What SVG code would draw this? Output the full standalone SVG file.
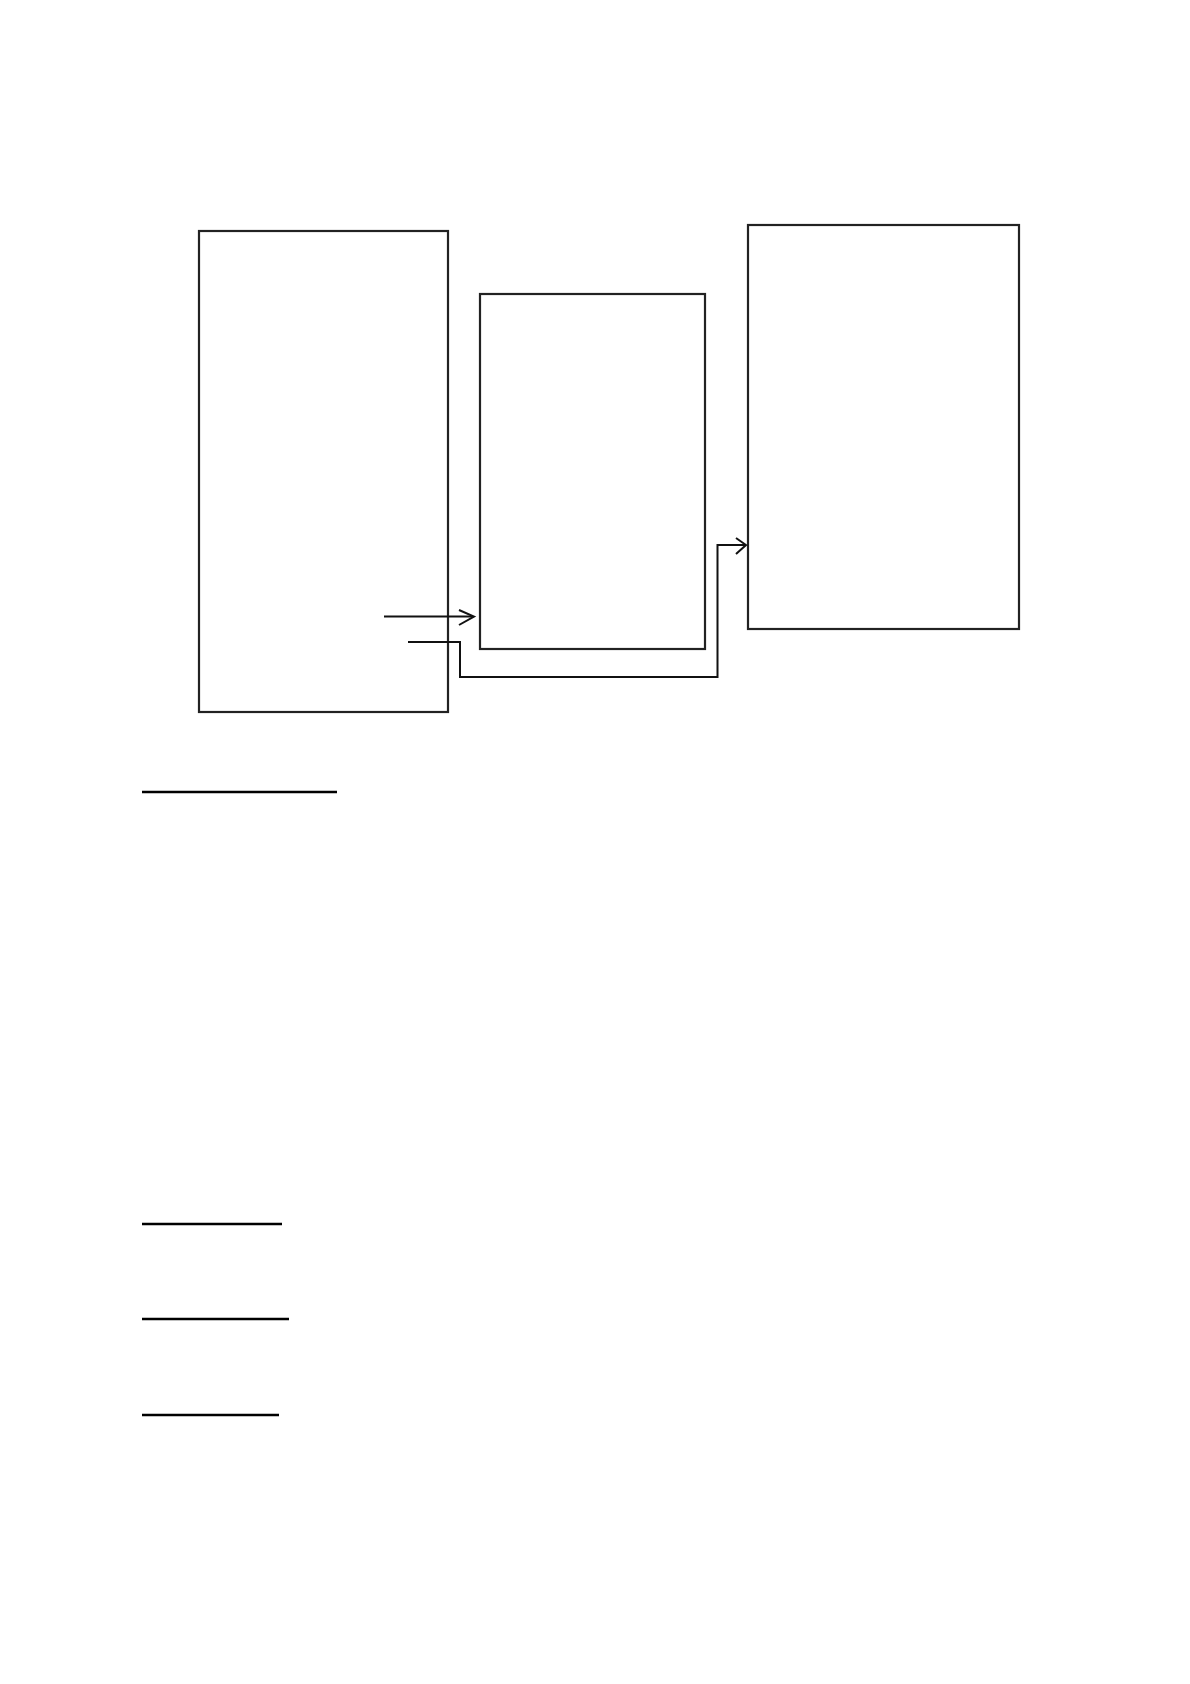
<svg xmlns="http://www.w3.org/2000/svg" width="1190" height="1684" viewBox="0 0 1190 1684">
<style>
.box{fill:none;stroke:#222;stroke-width:2.2}
.conn{fill:none;stroke:#111;stroke-width:2}
.rule{stroke:#000;stroke-width:2.4}
</style>
<rect width="1190" height="1684" fill="#fff"/>
<g id="node1"><rect class="box" x="199" y="231" width="249" height="481"/></g>
<g id="node2"><rect class="box" x="480" y="294" width="225" height="355"/></g>
<g id="node3"><rect class="box" x="748" y="225" width="271" height="404"/></g>
<g id="connectors">
<path class="conn" d="M384 616.5H473"/>
<path class="conn" d="M459 610L474 616.5L459 625"/>
<path class="conn" d="M408 642H460V677H717.5V545H746"/>
<path class="conn" d="M736 538L746 545L736 554"/>
</g>
<g id="rules">
<line class="rule" x1="142" y1="792" x2="337" y2="792"/>
<line class="rule" x1="142" y1="1224" x2="282" y2="1224"/>
<line class="rule" x1="142" y1="1319" x2="289" y2="1319"/>
<line class="rule" x1="142" y1="1415" x2="279" y2="1415"/>
</g>
</svg>
